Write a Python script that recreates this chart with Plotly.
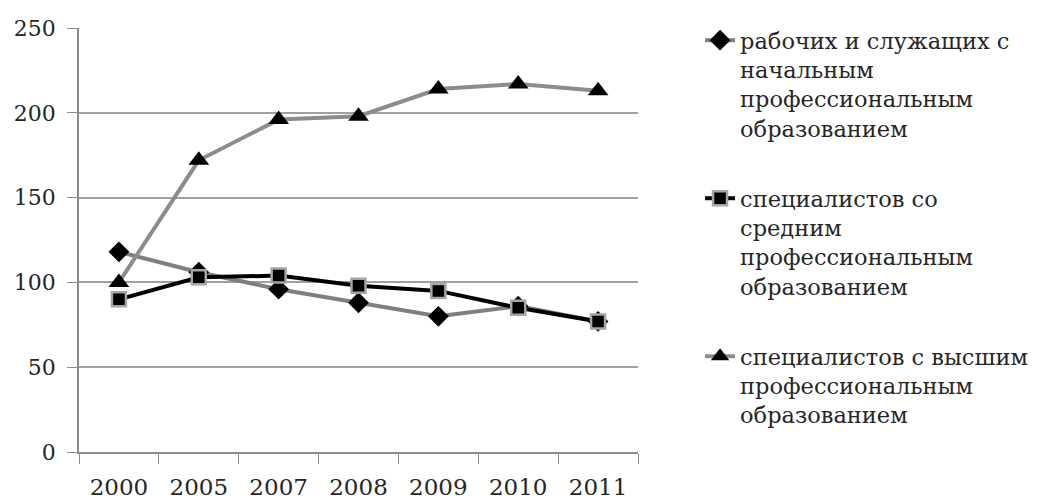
import plotly.graph_objects as go

years = ["2000", "2005", "2007", "2008", "2009", "2010", "2011"]
workers = [118, 106, 96, 88, 80, 86, 77]
secondary = [90, 103, 104, 98, 95, 85, 77]
higher = [100, 172, 196, 198, 214, 217, 213]

name_workers = "рабочих и служащих с<br>начальным<br>профессиональным<br>образованием"
name_secondary = "специалистов со<br>средним<br>профессиональным<br>образованием"
name_higher = "специалистов с высшим<br>профессиональным<br>образованием"

FONT = "DejaVu Serif"
TXT = "#262626"

fig = go.Figure()
fig.add_trace(go.Scatter(
    x=years, y=workers, name=name_workers, mode="lines+markers", legendgroup="a",
    line=dict(color="#7f7f7f", width=4),
    marker=dict(symbol="diamond", size=16, color="black", line=dict(width=0)),
))
fig.add_trace(go.Scatter(
    x=years, y=secondary, name=name_secondary, mode="lines+markers", legendgroup="b",
    line=dict(color="black", width=4),
    marker=dict(symbol="square", size=14, color="black", line=dict(width=2.5, color="#a6a6a6")),
))
fig.add_trace(go.Scatter(
    x=years, y=higher, name=name_higher, mode="lines+markers", legendgroup="c",
    line=dict(color="#8c8c8c", width=4),
    marker=dict(symbol="triangle-up", size=18, color="black", line=dict(width=0)),
))

fig.update_layout(
    width=1038, height=491,
    margin=dict(l=71, r=408, t=20, b=47, autoexpand=False),
    paper_bgcolor="white", plot_bgcolor="white",
    font=dict(family=FONT, size=22, color=TXT),
    showlegend=True,
    legend=dict(
        x=1.111, y=1.021, xanchor="left", yanchor="top",
        valign="top", tracegroupgap=38, maxheight=491,
        font=dict(family=FONT, size=22.5, color=TXT),
        bgcolor="rgba(0,0,0,0)",
    ),
    xaxis=dict(
        type="category", range=[-0.5, 6.5], automargin=False,
        showgrid=False, showline=True, linecolor="#8c8c8c", linewidth=1.5,
        ticks="outside", tickson="boundaries", ticklen=10, tickcolor="#8c8c8c",
        tickfont=dict(family=FONT, size=23, color=TXT),
        ticklabelstandoff=14,
        zeroline=False,
    ),
    yaxis=dict(
        range=[0, 250], tickvals=[0, 50, 100, 150, 200, 250], automargin=False,
        showgrid=True, gridcolor="#a0a0a0", gridwidth=1.5,
        showline=True, linecolor="#8c8c8c", linewidth=1.5,
        ticks="outside", ticklen=10, tickcolor="#8c8c8c",
        tickfont=dict(family=FONT, size=22, color=TXT),
        ticklabelstandoff=7,
        zeroline=False,
    ),
)

fig.write_html("out.html")
